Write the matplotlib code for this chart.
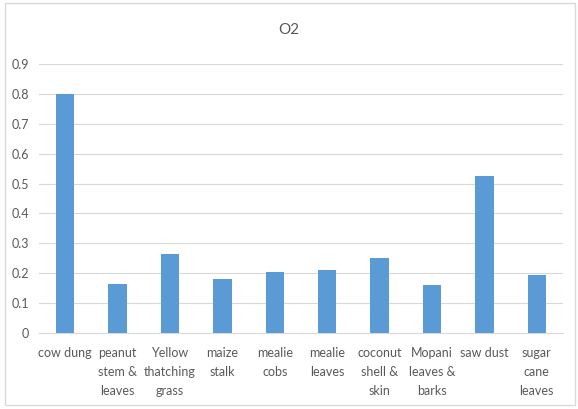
import matplotlib
matplotlib.use("Agg")
import matplotlib.pyplot as plt
from matplotlib.patches import Rectangle

categories = ["cow dung", "peanut\nstem &\nleaves", "Yellow\nthatching\ngrass", "maize\nstalk",
              "mealie\ncobs", "mealie\nleaves", "coconut\nshell &\nskin", "Mopani\nleaves &\nbarks",
              "saw dust", "sugar\ncane\nleaves"]
values = [0.80, 0.165, 0.265, 0.18, 0.205, 0.21, 0.25, 0.16, 0.525, 0.195]
yticks = [0, 0.1, 0.2, 0.3, 0.4, 0.5, 0.6, 0.7, 0.8, 0.9]
ytick_labels = ["0", "0.1", "0.2", "0.3", "0.4", "0.5", "0.6", "0.7", "0.8", "0.9"]

plt.rcParams['font.family'] = ['Lato', 'DejaVu Sans']
txt = '#595959'

fig = plt.figure(figsize=(5.78, 4.09), dpi=100)
ax = fig.add_axes([39/578, 1-333/409, (563-39)/578, (333-64)/409])

x = list(range(len(categories)))
ax.bar(x, values, width=0.35, color='#5b9bd5', zorder=3)
ax.set_xlim(-0.5, len(categories)-0.5)
ax.set_ylim(0, 0.9)
ax.set_yticks(yticks)
ax.set_yticklabels(ytick_labels)
ax.set_xticks(x)
ax.set_xticklabels(categories, linespacing=1.7, va='top')
ax.grid(axis='y', color='#d9d9d9', linewidth=0.8, zorder=0)
for s in ['top', 'right', 'left']:
    ax.spines[s].set_visible(False)
ax.spines['bottom'].set_color('#d9d9d9')
ax.tick_params(axis='both', length=0, labelsize=9, colors=txt)
ax.tick_params(axis='x', pad=10)
ax.tick_params(axis='y', pad=7)

fig.text(0.5, 1-30/409, "O2", ha='center', va='center', fontsize=11, color=txt)
fig.patches.append(Rectangle((5/578, 1-405/409), 570/578, 402/409, transform=fig.transFigure,
                             fill=False, edgecolor='#d9d9d9', linewidth=1))

fig.savefig("out.png", dpi=100)
